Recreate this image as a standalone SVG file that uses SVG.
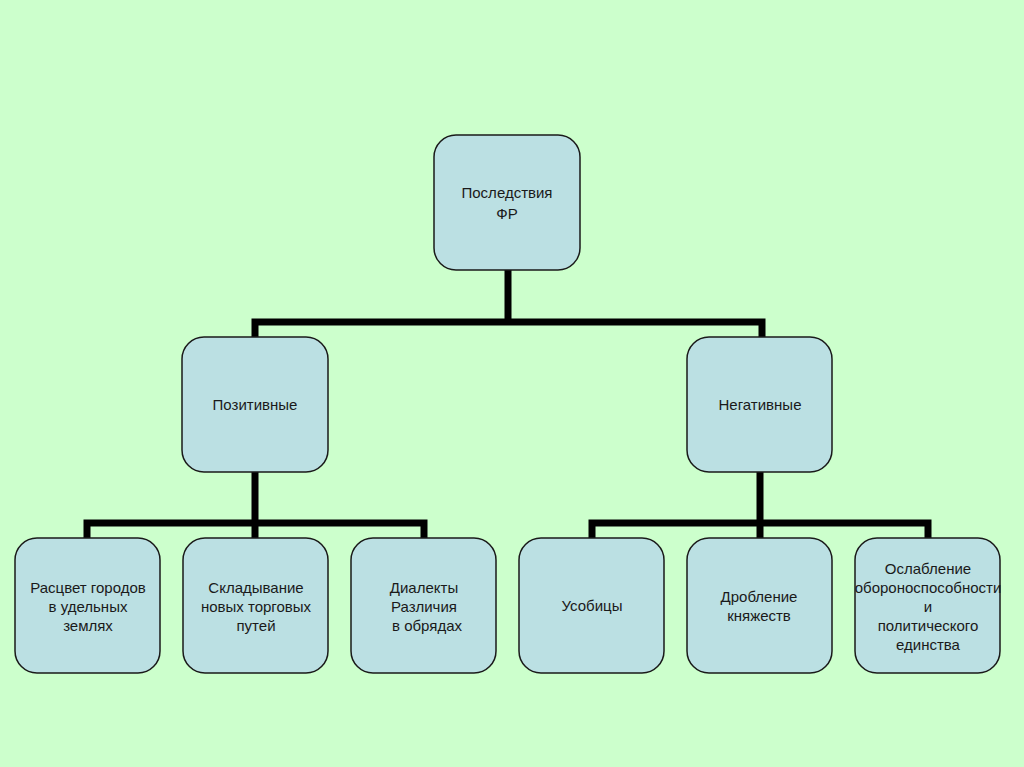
<svg xmlns="http://www.w3.org/2000/svg" width="1024" height="767" viewBox="0 0 1024 767">
<style>
.bg{fill:#ccffcc}
.box{fill:#bbe0e3;stroke:#1a1a1a;stroke-width:1.5}
.t{font-family:"Liberation Sans",Arial,sans-serif;font-size:15px;fill:#1a1a1a;text-anchor:middle}
.c{fill:none;stroke:#000;stroke-width:7;stroke-linecap:butt;stroke-linejoin:miter}
</style>
<rect class="bg" x="0" y="0" width="1024" height="767"/>
<g id="connectors">
<path class="c" d="M508 270V322M255 337V322H762V337"/>
<path class="c" d="M255 472V523M87 538V523H424V538M255 523V538"/>
<path class="c" d="M760 472V523M592 538V523H928V538M760 523V538"/>
</g>
<g id="root"><rect class="box" x="434" y="135" width="146" height="135" rx="22"/>
<text class="t" x="507" y="198">Последствия</text><text class="t" x="507" y="219">ФР</text></g>
<g id="positive"><rect class="box" x="182" y="337" width="146" height="135" rx="22"/>
<text class="t" x="255" y="410">Позитивные</text></g>
<g id="negative"><rect class="box" x="687" y="337" width="145" height="135" rx="22"/>
<text class="t" x="760" y="410">Негативные</text></g>
<g id="p1"><rect class="box" x="15" y="538" width="145" height="135" rx="22"/>
<text class="t" x="88" y="593">Расцвет городов</text><text class="t" x="88" y="612">в удельных</text><text class="t" x="88" y="631">землях</text></g>
<g id="p2"><rect class="box" x="183" y="538" width="145" height="135" rx="22"/>
<text class="t" x="256" y="593">Складывание</text><text class="t" x="256" y="612">новых торговых</text><text class="t" x="256" y="631">путей</text></g>
<g id="p3"><rect class="box" x="351" y="538" width="145" height="135" rx="22"/>
<text class="t" x="424" y="593">Диалекты</text><text class="t" x="424" y="612">Различия</text><text class="t" x="427" y="631">в обрядах</text></g>
<g id="n1"><rect class="box" x="519" y="538" width="145" height="135" rx="22"/>
<text class="t" x="592" y="611">Усобицы</text></g>
<g id="n2"><rect class="box" x="687" y="538" width="145" height="135" rx="22"/>
<text class="t" x="759" y="602">Дробление</text><text class="t" x="759" y="621">княжеств</text></g>
<g id="n3"><rect class="box" x="855" y="538" width="145" height="135" rx="22"/>
<text class="t" x="928" y="574">Ослабление</text><text class="t" x="928" y="593">обороноспособности</text><text class="t" x="928" y="612">и</text><text class="t" x="928" y="631">политического</text><text class="t" x="928" y="650">единства</text></g>
</svg>
